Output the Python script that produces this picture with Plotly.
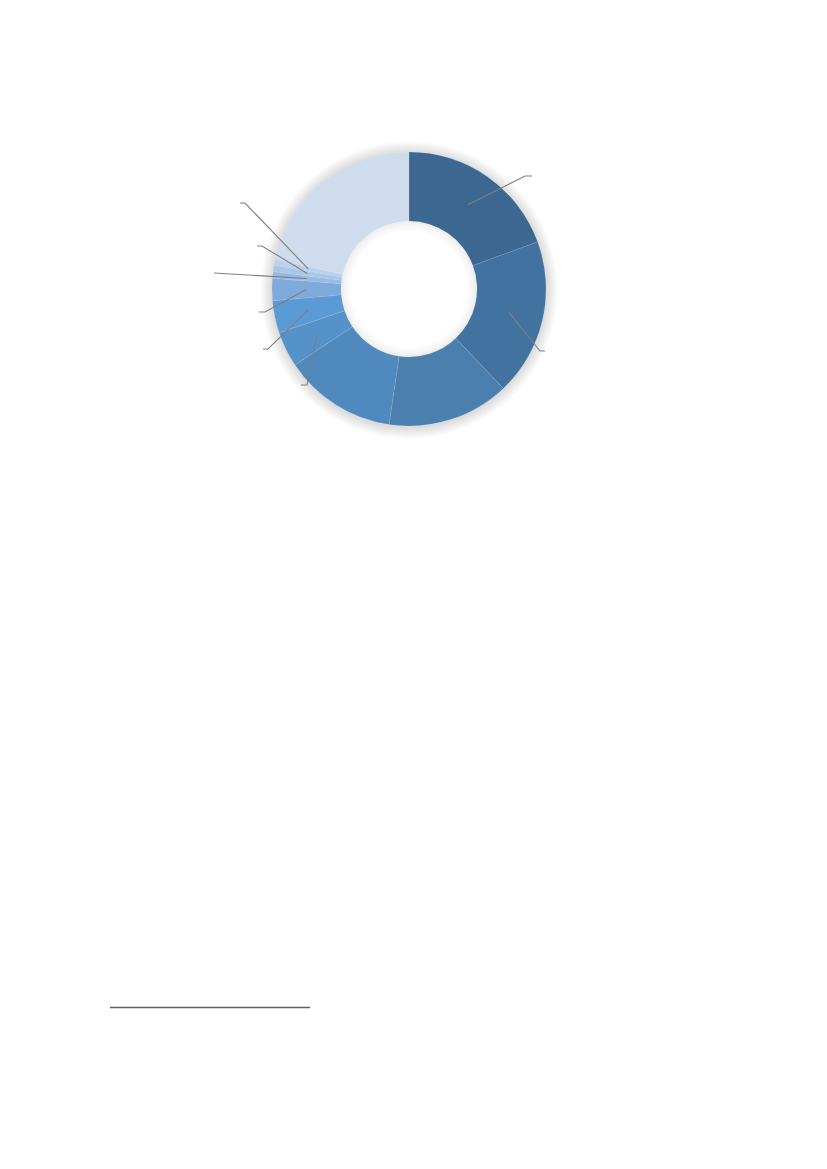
import math
import plotly.graph_objects as go

# slice values (percent), clockwise from 12 o'clock
slice_names = ["A", "B", "C", "D", "E", "F", "G", "H", "I", "J", "K"]
slice_values = [19.4, 18.5, 14.4, 13.3, 4.2, 3.8, 2.6, 0.8, 0.75, 0.7, 21.5]
slice_colors = ["#3b6790", "#4273a0", "#4a7fae", "#4f89bd", "#5592ca", "#5b9bd5",
                "#7eaadc", "#96bae3", "#a9c6e7", "#bad1eb", "#cfdcee"]

# page body has an 8px margin, so the figure is placed at (8, 8)
OFF = 8
W, H = 827 - 2 * OFF, 1169 - 2 * OFF
CX, CY = 409, 289      # donut centre, page px
R_OUT, R_IN = 137, 68

# leader lines: slice index -> (elbow px, end px); start point comes from the slice angle
leaders = {
    0: ((525, 176), (532, 176)),
    1: ((540, 351), (545, 351)),
    4: ((307, 385), (301, 385)),
    5: ((268, 349), (263, 349)),
    6: ((265, 312), (259, 312)),
    7: ((214, 273), (214, 273)),
    8: ((262, 246), (257, 246)),
    9: ((245, 203), (240, 203)),
}


def px(x):
    return (x - OFF) / W


def py(y):
    return 1 - (y - OFF) / H


def circle(r, dy=0, **kw):
    return dict(type="circle", xref="paper", yref="paper",
                x0=px(CX - r), x1=px(CX + r), y0=py(CY + dy + r), y1=py(CY + dy - r), **kw)


fig = go.Figure(go.Pie(
    labels=slice_names,
    values=slice_values,
    sort=False,
    direction="clockwise",
    rotation=0,
    hole=R_IN / R_OUT,
    marker=dict(colors=slice_colors, line=dict(color="rgba(255,255,255,0.18)", width=0.5)),
    textinfo="none",
    hoverinfo="label+percent",
    showlegend=False,
    domain=dict(x=[px(CX - R_OUT), px(CX + R_OUT)], y=[py(CY + R_OUT), py(CY - R_OUT)]),
))

shapes = []

# soft drop shadow around the ring
for k in range(1, 13):
    shapes.append(circle(R_OUT + k, dy=1, layer="below",
                         fillcolor="rgba(0,0,0,0.011)", line=dict(width=0)))

# keep the hole white over the shadow
shapes.append(circle(R_IN + 1, layer="below", fillcolor="white", line=dict(width=0)))

# inner shadow on the hole edge
for k, a in enumerate([0.07, 0.05, 0.035, 0.022, 0.012]):
    shapes.append(circle(R_IN - 1 - 2 * k, layer="above",
                         line=dict(color=f"rgba(0,0,0,{a})", width=2)))

# leader lines from slice mid-angles
total = sum(slice_values)
cum = 0
mids = []
for v in slice_values:
    mids.append((cum + v / 2) / total * 2 * math.pi)
    cum += v

for i, (elbow, end) in leaders.items():
    sx = CX + 0.75 * R_OUT * math.sin(mids[i])
    sy = CY - 0.75 * R_OUT * math.cos(mids[i])
    path = f"M {px(sx)},{py(sy)} L {px(elbow[0])},{py(elbow[1])} L {px(end[0])},{py(end[1])}"
    shapes.append(dict(type="path", xref="paper", yref="paper", layer="above", path=path,
                       line=dict(color="#7f7f7f", width=1.1)))

# footnote separator
shapes.append(dict(type="line", xref="paper", yref="paper", x0=px(110), x1=px(310),
                   y0=py(1007.5), y1=py(1007.5), line=dict(color="#5f5f5f", width=1.5)))

fig.update_layout(
    width=W, height=H,
    margin=dict(l=0, r=0, t=0, b=0),
    paper_bgcolor="white",
    plot_bgcolor="white",
    shapes=shapes,
    font=dict(family="Liberation Sans"),
)

fig.write_html("out.html")
